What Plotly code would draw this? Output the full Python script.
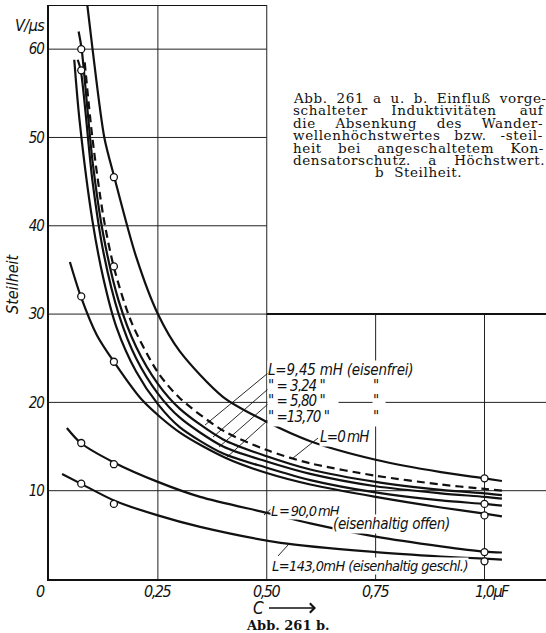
import plotly.graph_objects as go

# ---------------- data ----------------
# C in microfarad, Steilheit in V/us
C_L0 = [0.088, 0.100, 0.127, 0.150, 0.200, 0.250, 0.300, 0.400, 0.500, 0.600, 0.750, 0.900, 1.000, 1.040]
S_L0 = [65.0, 60.0, 50.0, 45.5, 36.5, 30.0, 25.8, 20.6, 17.8, 15.6, 13.5, 12.1, 11.4, 11.1]

C_DASH = [0.082, 0.100, 0.125, 0.150, 0.190, 0.250, 0.300, 0.400, 0.500, 0.600, 0.750, 0.900, 1.000, 1.040]
S_DASH = [58.5, 49.8, 41.0, 35.1, 29.0, 23.4, 20.5, 16.8, 14.6, 13.1, 11.7, 10.7, 10.2, 10.0]

C_S1 = [0.068, 0.075, 0.100, 0.125, 0.160, 0.200, 0.250, 0.300, 0.400, 0.500, 0.600, 0.750, 0.900, 1.000, 1.040]
S_S1 = [62.0, 60.0, 47.3, 38.9, 31.5, 26.3, 22.1, 19.3, 15.8, 13.9, 12.4, 11.0, 10.1, 9.7, 9.5]

C_S2 = [0.066, 0.073, 0.100, 0.125, 0.160, 0.200, 0.250, 0.300, 0.400, 0.500, 0.600, 0.750, 0.900, 1.000, 1.040]
S_S2 = [58.8, 57.6, 45.0, 37.0, 30.0, 25.0, 21.0, 18.3, 15.0, 13.3, 11.9, 10.5, 9.7, 9.3, 9.1]

C_S3 = [0.058, 0.070, 0.100, 0.125, 0.155, 0.200, 0.250, 0.300, 0.400, 0.500, 0.600, 0.750, 0.900, 1.000, 1.040]
S_S3 = [58.8, 52.0, 40.5, 34.0, 28.5, 23.5, 19.8, 17.2, 14.2, 12.6, 11.2, 9.8, 8.9, 8.5, 8.3]

C_E = [0.048, 0.073, 0.110, 0.149, 0.215, 0.300, 0.406, 0.500, 0.600, 0.750, 0.900, 1.000, 1.040]
S_E = [35.9, 32.0, 27.6, 24.6, 20.2, 16.6, 13.7, 12.0, 10.7, 9.3, 8.1, 7.4, 7.1]

C_F = [0.041, 0.073, 0.149, 0.250, 0.347, 0.500, 0.600, 0.750, 0.900, 1.000, 1.040]
S_F = [17.1, 15.4, 13.2, 11.0, 9.3, 7.5, 6.3, 4.8, 3.7, 3.1, 3.0]

C_G = [0.030, 0.073, 0.149, 0.250, 0.347, 0.532, 0.750, 0.900, 1.000, 1.040]
S_G = [11.9, 10.8, 8.9, 7.2, 5.9, 4.1, 3.05, 2.55, 2.3, 2.2]

# measured points (open circles)
C_PTS = [0.074, 0.074, 0.074, 0.074, 0.074, 0.149, 0.149, 0.149, 0.149, 0.149, 1.0, 1.0, 1.0, 1.0, 1.0]
S_PTS = [60.0, 57.6, 32.0, 15.4, 10.8, 45.5, 35.4, 24.6, 13.0, 8.5, 11.4, 8.5, 7.2, 3.05, 2.0]

Y_TICKS = [10, 20, 30, 40, 50, 60]
Y_TICK_TEXT = ["10", "20", "30", "40", "50", "60"]
X_TICKS = [0.25, 0.50, 0.75, 1.0]
X_TICK_TEXT = ["0,25", "0,50", "0,75", "1,0\u03bcF"]

GRID_Y_FULL = [10, 20, 30]
GRID_Y_UPPER = [40, 50, 60]
GRID_X_FULL = [0.25, 0.50]
GRID_X_LOWER = [0.75, 1.0]

CAPTION_LINES = [
    "Abb. 261 a u. b. Einflu\u00df vorge-",
    "schalteter Induktivit\u00e4ten auf",
    "die Absenkung des Wander-",
    "wellenh\u00f6chstwertes bzw. -steil-",
    "heit bei angeschaltetem Kon-",
    "densatorschutz. a H\u00f6chstwert.",
    "b Steilheit.",
]
# extra word spacing (px) that justifies each caption line
CAPTION_WORDSPACE = [4.0, 18.5, 14.8, 9.0, 11.4, 12.4, 5.0]

# ---------------- geometry ----------------
W, H = 546, 633
ML, MR, MT, MB = 49, 0, 5, 54
PX_PER_C = 435.5
PX_PER_S = 8.833
X_MAX = (W - ML - MR) / PX_PER_C
Y_MAX = 65.0

NARROW = "DejaVu Sans Condensed"
SERIF = "DejaVu Serif"
INK = "#111111"
THIN = "\u2009"


def px_x(px):
    return (px - ML) / (W - ML - MR)


def px_y(py):
    return (H - MB - py) / (H - MB - MT)


def dx(px):
    return (px - ML) / PX_PER_C


def dy(py):
    return (H - MB - py) / PX_PER_S


def spaced(text, ls=0.0, ws=None):
    style = f"letter-spacing:{ls}px"
    if ws is not None:
        style += f";word-spacing:{ws}px"
    return f'<span style="{style}">{text}</span>'


fig = go.Figure()

curves = [
    (C_L0, S_L0, "solid"),
    (C_DASH, S_DASH, "dash"),
    (C_S1, S_S1, "solid"),
    (C_S2, S_S2, "solid"),
    (C_S3, S_S3, "solid"),
    (C_E, S_E, "solid"),
    (C_F, S_F, "solid"),
    (C_G, S_G, "solid"),
]
for cx, sy, dash in curves:
    fig.add_trace(go.Scatter(
        x=cx, y=sy, mode="lines",
        line=dict(color=INK, width=2.2, shape="spline", smoothing=0.8,
                  dash="8px,5px" if dash == "dash" else "solid"),
        hoverinfo="skip", cliponaxis=True,
    ))

fig.add_trace(go.Scatter(
    x=C_PTS, y=S_PTS, mode="markers",
    marker=dict(symbol="circle", size=7, color="white", line=dict(color=INK, width=1.3)),
    hoverinfo="skip",
))

shapes = []
grid_line = dict(color="#222222", width=1)
for v in GRID_Y_FULL:
    x1 = 0.5 if v == 30 else X_MAX
    shapes.append(dict(type="line", xref="x", yref="y", x0=0, x1=x1, y0=v, y1=v,
                       line=grid_line, layer="below"))
for v in GRID_Y_UPPER:
    shapes.append(dict(type="line", xref="x", yref="y", x0=0, x1=0.5, y0=v, y1=v,
                       line=grid_line, layer="below"))
for v in GRID_X_FULL:
    shapes.append(dict(type="line", xref="x", yref="y", x0=v, x1=v, y0=0, y1=Y_MAX,
                       line=grid_line, layer="below"))
for v in GRID_X_LOWER:
    shapes.append(dict(type="line", xref="x", yref="y", x0=v, x1=v, y0=0, y1=30,
                       line=grid_line, layer="below"))
# frame pieces: top border over left half, heavy rule at 30 on the right half
shapes.append(dict(type="line", xref="x", yref="y", x0=0, x1=0.5, y0=Y_MAX, y1=Y_MAX,
                   line=dict(color=INK, width=2.2), layer="below"))
shapes.append(dict(type="line", xref="x", yref="y", x0=0.5, x1=X_MAX, y0=30, y1=30,
                   line=dict(color=INK, width=2), layer="below"))

# leader lines (from label to curve)
leaders = [
    ((268, 373), (205, 425)),
    ((268, 389), (213, 437)),
    ((268, 404), (219, 447)),
    ((268, 420), (226, 458)),
    ((318, 438), (293, 458)),
    ((271, 509), (264, 515)),
    ((278, 556), (288, 545)),
]
for (p0, p1) in leaders:
    shapes.append(dict(type="line", xref="x", yref="y", x0=dx(p0[0]), y0=dy(p0[1]),
                       x1=dx(p1[0]), y1=dy(p1[1]), line=dict(color=INK, width=0.9)))

annotations = []


def label(text, px, py, size=15, anchor="left", bg="white", width=None, family=NARROW,
          italic=True, ls=0.0):
    body = spaced(text, ls) if ls else text
    a = dict(text=f"<i>{body}</i>" if italic else body, xref="paper", yref="paper",
             x=px_x(px), y=px_y(py), xanchor=anchor, yanchor="middle", showarrow=False,
             font=dict(family=family, size=size, color=INK), bgcolor=bg, borderpad=0)
    if width:
        a["width"] = width
        a["align"] = "left"
    annotations.append(a)


# curve labels
label("L=9,45 mH (eisenfrei)", 267, 370, width=152, ls=-0.2)
label("\" = 3,24 \"", 267, 386, width=70, ls=-1.0)
label("\" = 5,80 \"", 267, 401, width=70, ls=-1.0)
label("\" =13,70 \"", 267, 417, width=70, ls=-1.0)
for py in (386, 401, 417):
    label("\"", 372, py, width=12)
label(f"L=0{THIN}mH", 319, 437, ls=-0.8)
label(f"L{THIN}={THIN}90,0{THIN}mH", 270, 511, size=14.5, ls=-0.9)
label("(eisenhaltig offen)", 332, 524, ls=-0.35)
label("L=143,0mH (eisenhaltig geschl.)", 271, 566, size=14.5, ls=-0.6)

# axis texts
for v, t in zip(X_TICKS, X_TICK_TEXT):
    px = ML + v * PX_PER_C
    if v == 1.0:
        label(t, px - 11, 591, size=16, bg=None, ls=-1.5)
    else:
        label(t, px, 591, size=16, anchor="center", bg=None, ls=-1.5)
label("0", 40, 591, size=16, anchor="center", bg=None)
label("V/\u03bcs", 30, 25, size=16, anchor="center", bg=None, ls=-0.5)
# "C ---->" : the text sits at the arrow's tail
annotations.append(dict(text="<i>C</i>", xref="paper", yref="paper", x=px_x(316), y=px_y(608),
                        ax=-58, ay=0, axref="pixel", ayref="pixel", showarrow=True,
                        arrowhead=4, arrowsize=1.3, arrowwidth=1.4, arrowcolor=INK,
                        startstandoff=4,
                        font=dict(family=NARROW, size=17, color=INK)))
annotations.append(dict(text="<i>Steilheit</i>", xref="paper", yref="paper", x=px_x(12),
                        y=px_y(284), textangle=-90, showarrow=False, xanchor="center",
                        yanchor="middle", font=dict(family=NARROW, size=16, color=INK)))
annotations.append(dict(text="<b>Abb. 261 b.</b>", xref="paper", yref="paper", x=px_x(288),
                        y=px_y(625), showarrow=False, xanchor="center", yanchor="middle",
                        font=dict(family=SERIF, size=13, color=INK)))

# caption block, justified through word spacing
CAP_L, CAP_R = 291, 545
CAP_SIZE = 13.5
for i, (line, ws) in enumerate(zip(CAPTION_LINES, CAPTION_WORDSPACE)):
    py = 98 + i * 12.4
    last = i == len(CAPTION_LINES) - 1
    annotations.append(dict(text=spaced(line, 0.6, ws), xref="paper", yref="paper",
                            x=px_x((CAP_L + CAP_R) / 2 if last else CAP_L), y=px_y(py),
                            xanchor="center" if last else "left", yanchor="middle",
                            showarrow=False, font=dict(family=SERIF, size=CAP_SIZE, color=INK)))

fig.update_layout(
    width=W, height=H,
    margin=dict(l=ML, r=MR, t=MT, b=MB, pad=0, autoexpand=False),
    paper_bgcolor="white", plot_bgcolor="white",
    showlegend=False,
    shapes=shapes,
    annotations=annotations,
    xaxis=dict(range=[0, X_MAX], showgrid=False, zeroline=False, showline=True,
               linecolor=INK, linewidth=2.2, showticklabels=False, ticks="", fixedrange=True),
    yaxis=dict(range=[0, Y_MAX], showgrid=False, zeroline=False, showline=True,
               linecolor=INK, linewidth=2.2, tickvals=Y_TICKS,
               ticktext=[spaced(t, -1.0) for t in Y_TICK_TEXT],
               ticks="", ticklabelstandoff=0,
               tickfont=dict(family=NARROW, size=15, color=INK, style="italic"), fixedrange=True),
)

fig.write_html(
    "out.html",
    config={"displayModeBar": False, "staticPlot": True},
    post_script="document.body.style.margin='0';document.body.style.padding='0';",
)
